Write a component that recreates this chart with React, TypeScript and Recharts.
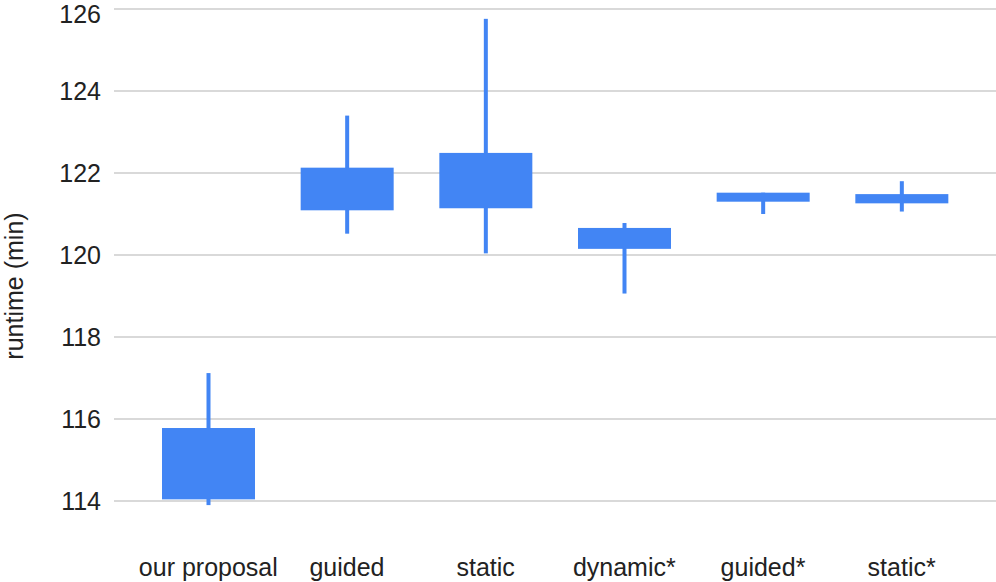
import React from 'react';
import { ComposedChart, Bar, CartesianGrid, XAxis, YAxis } from 'recharts';

const categories = ['our proposal', 'guided', 'static', 'dynamic*', 'guided*', 'static*'];
const whiskerLow = [113.9, 120.52, 120.04, 119.06, 121.0, 121.06];
const boxLow = [114.04, 121.09, 121.14, 120.15, 121.3, 121.26];
const boxHigh = [115.78, 122.13, 122.49, 120.66, 121.52, 121.485];
const whiskerHigh = [117.12, 123.4, 125.76, 120.78, 121.52, 121.8];
const yTicks = [114, 116, 118, 120, 122, 124, 126];

const data = categories.map((name, i) => ({
  name,
  lo: whiskerLow[i],
  hi: whiskerHigh[i],
  box: [boxLow[i], boxHigh[i]],
}));

const BLUE = '#4285f4';
const FONT = '"Liberation Sans", Arial, sans-serif';
const WHISKER = 4;

// box drawn by recharts; whisker placed on the same linear scale (px per unit from the box)
const BoxShape = (props: any) => {
  const { x, y, width, height, payload } = props;
  const [q1, q3] = payload.box;
  const k = height / (q3 - q1);
  const yHi = y - (payload.hi - q3) * k;
  const yLo = y + height + (q1 - payload.lo) * k;
  const cx = x + width / 2;
  return (
    <g>
      <rect x={cx - WHISKER / 2} y={yHi} width={WHISKER} height={yLo - yHi} fill={BLUE} />
      <rect x={x} y={y} width={width} height={height} fill={BLUE} />
    </g>
  );
};

const YLabel = () => (
  <text
    x={23}
    y={286}
    transform="rotate(-90, 23, 286)"
    textAnchor="middle"
    fontFamily={FONT}
    fontSize={25}
    fill="#222"
  >
    runtime (min)
  </text>
);

const App: React.FC = () => {
  return (
    <div>
      <style>{'body{margin:0}'}</style>
      <ComposedChart
        width={996}
        height={582}
        data={data}
        margin={{ top: 9, right: 0, bottom: 0, left: 0 }}
      >
        <CartesianGrid vertical={false} stroke="#cccccc" strokeWidth={1.5} />
        <XAxis
          dataKey="name"
          height={81}
          padding={{ left: 25, right: 25 }}
          axisLine={false}
          tickLine={false}
          tickSize={0}
          tickMargin={57}
          tick={{ fontFamily: FONT, fontSize: 25, fill: '#222' }}
          interval={0}
        />
        <YAxis
          width={114}
          domain={[114, 126]}
          ticks={yTicks}
          axisLine={false}
          tickLine={false}
          tickSize={0}
          tickMargin={13}
          tick={{ fontFamily: FONT, fontSize: 25, fill: '#222' }}
          label={<YLabel />}
        />
        <Bar
          dataKey="box"
          barSize={93}
          fill={BLUE}
          shape={<BoxShape />}
          isAnimationActive={false}
        />
      </ComposedChart>
    </div>
  );
};

export default App;
